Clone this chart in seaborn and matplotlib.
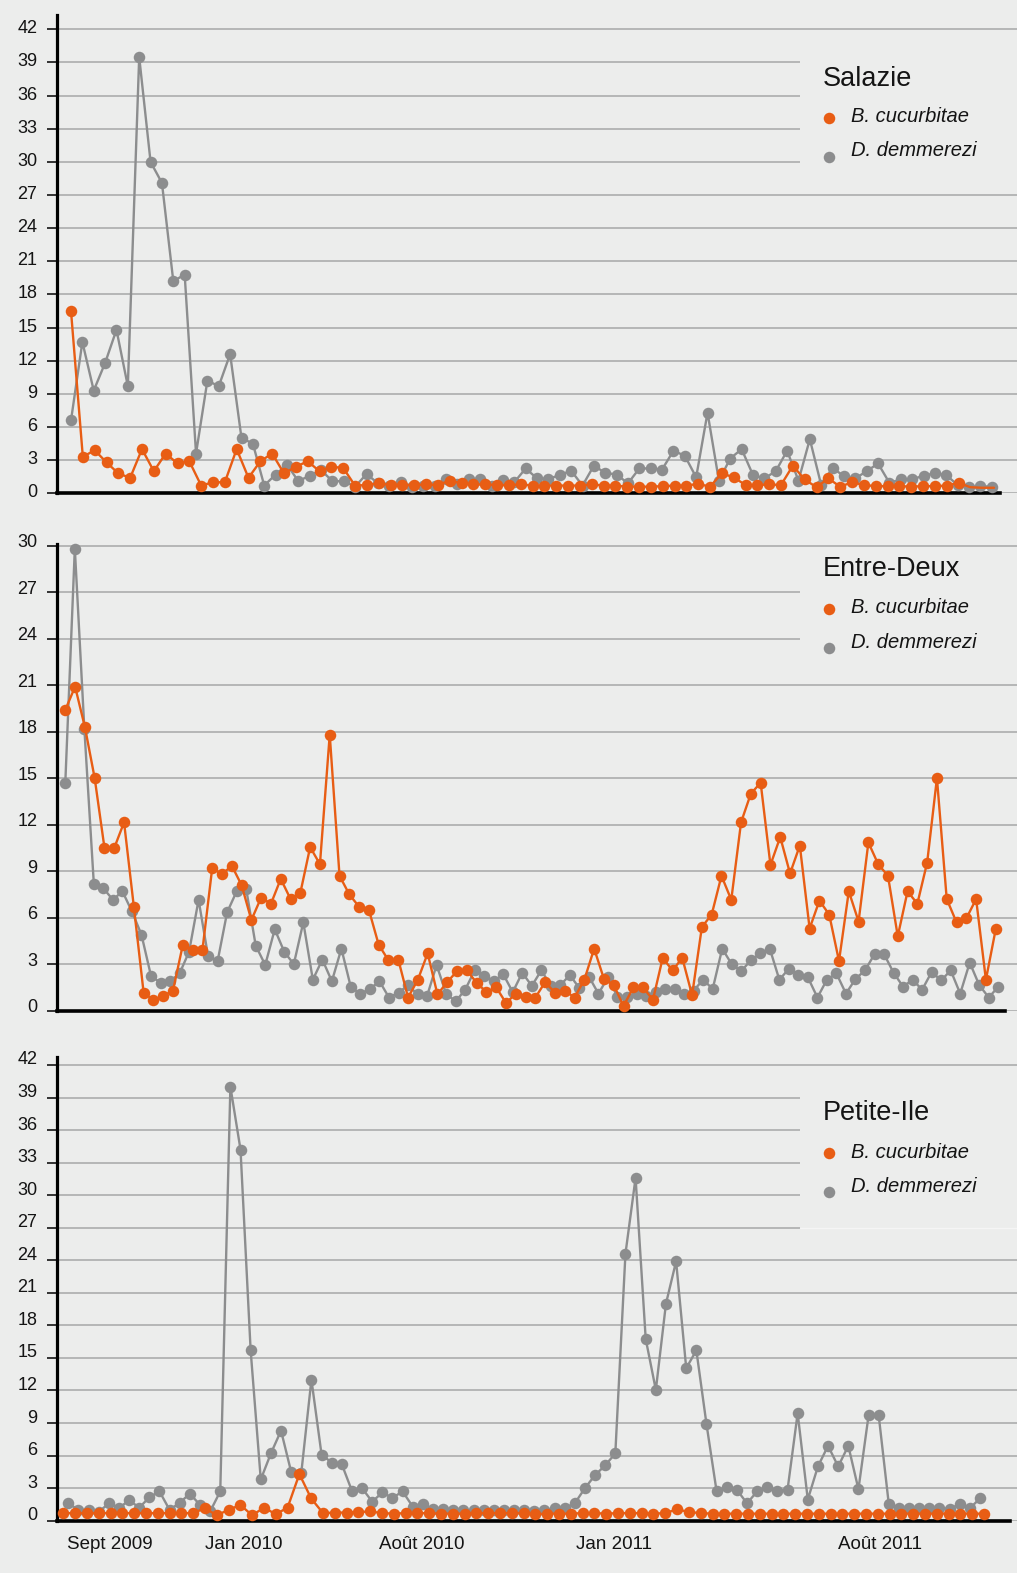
import numpy as np
import matplotlib
matplotlib.use("Agg")
import matplotlib.pyplot as plt
import seaborn as sns
from matplotlib.patches import Rectangle
from matplotlib.transforms import ScaledTranslation

sns.set_theme(style="white")
plt.rcParams["font.family"] = ["Liberation Sans", "DejaVu Sans"]

# ---------------------------------------------------------------- data
sites = ["Salazie", "Entre-Deux", "Petite-Ile"]
species = ["B. cucurbitae", "D. demmerezi"]
y_max = [42, 30, 42]
month_labels = ["Sept 2009", "Jan 2010", "Août 2010", "Jan 2011", "Août 2011"]

salazie_bc = [16.5, 3.3, 3.9, 2.8, 1.8, 1.4, 4.0, 2.0, 3.6, 2.7,
              2.9, 0.7, 1.0, 1.0, 4.0, 1.4, 2.9, 3.6, 1.8, 2.4,
              2.9, 2.0, 2.4, 2.3, 0.7, 0.75, 0.9, 0.75, 0.75, 0.75,
              0.8, 0.75, 1.15, 0.9, 0.8, 0.8, 0.75, 0.75, 0.8, 0.7,
              0.7, 0.7, 0.7, 0.7, 0.8, 0.7, 0.7, 0.6, 0.6, 0.6,
              0.65, 0.7, 0.7, 0.85, 0.6, 1.8, 1.45, 0.75, 0.75, 0.8,
              0.75, 2.5, 1.25, 0.55, 1.35, 0.6, 1.0, 0.75, 0.65, 0.65,
              0.65, 0.6, 0.65, 0.65, 0.7, 0.95, 0.55, 0.5, 0.5]
salazie_dd = [6.6, 13.7, 9.3, 11.8, 14.8, 9.7, 39.5, 30.0, 28.1, 19.2,
              19.8, 3.6, 10.2, 9.7, 12.6, 5.0, 4.5, 0.7, 1.7, 2.6,
              1.1, 1.6, 2.1, 1.1, 1.1, 0.6, 1.75, 0.9, 0.7, 1.0,
              0.6, 0.7, 0.7, 1.25, 0.8, 1.3, 1.3, 0.7, 1.2, 1.0,
              2.25, 1.35, 1.3, 1.65, 2.05, 0.7, 2.5, 1.85, 1.7, 0.9,
              2.25, 2.25, 2.15, 3.85, 3.4, 1.45, 7.3, 1.15, 3.15, 4.0,
              1.65, 1.35, 2.0, 3.85, 1.15, 4.9, 0.75, 2.3, 1.55, 1.35,
              2.0, 2.7, 0.95, 1.25, 1.25, 1.6, 1.8, 1.65, 0.75, 0.55,
              0.65, 0.6]

entre_deux_bc = [19.4, 20.9, 18.3, 15.0, 10.5, 10.5, 12.15, 6.7, 1.15, 0.7,
                 0.95, 1.3, 4.25, 3.9, 3.9, 9.2, 8.8, 9.35, 8.1, 5.85,
                 7.3, 6.9, 8.5, 7.2, 7.6, 10.55, 9.45, 17.8, 8.7, 7.5,
                 6.7, 6.5, 4.25, 3.25, 3.3, 0.85, 2.0, 3.7, 1.05, 1.85,
                 2.55, 2.6, 1.8, 1.2, 1.5, 0.5, 1.1, 0.9, 0.85, 1.85,
                 1.15, 1.3, 0.85, 2.0, 4.0, 2.05, 1.65, 0.3, 1.5, 1.5,
                 0.7, 3.4, 2.6, 3.4, 1.0, 5.4, 6.2, 8.7, 7.15, 12.15,
                 14.0, 14.7, 9.4, 11.2, 8.85, 10.65, 5.3, 7.1, 6.2, 3.2,
                 7.7, 5.75, 10.85, 9.45, 8.7, 4.8, 7.7, 6.9, 9.55, 15.0,
                 7.2, 5.7, 5.95, 7.2, 2.0, 5.25]
entre_deux_dd = [14.7, 29.8, 18.2, 8.15, 7.9, 7.15, 7.7, 6.4, 4.9, 2.25,
                 1.8, 1.9, 2.4, 3.8, 7.15, 3.5, 3.2, 6.35, 7.7, 7.85,
                 4.2, 2.95, 5.25, 3.8, 3.0, 5.7, 2.0, 3.3, 1.9, 4.0,
                 1.5, 1.1, 1.4, 1.9, 0.85, 1.15, 1.65, 1.05, 0.95, 2.95,
                 1.1, 0.6, 1.35, 2.6, 2.25, 1.9, 2.35, 1.2, 2.45, 1.6,
                 2.6, 1.6, 1.65, 2.3, 1.45, 2.2, 1.1, 2.15, 0.9, 0.9,
                 1.05, 0.95, 1.2, 1.4, 1.4, 1.05, 1.3, 2.0, 1.4, 4.0,
                 3.0, 2.55, 3.25, 3.7, 4.0, 2.0, 2.7, 2.3, 2.15, 0.85,
                 2.0, 2.4, 1.1, 2.05, 2.6, 3.65, 3.65, 2.45, 1.55, 2.0,
                 1.35, 2.5, 1.95, 2.6, 1.1, 3.1, 1.65, 0.85, 1.55]

petite_ile_bc = [0.7, 0.7, 0.7, 0.7, 0.7, 0.7, 0.7, 0.7, 0.7, 0.7,
                 0.7, 0.7, 1.15, 0.5, 1.0, 1.45, 0.5, 1.2, 0.6, 1.2,
                 4.3, 2.05, 0.7, 0.75, 0.75, 0.8, 0.85, 0.7, 0.65, 0.7,
                 0.7, 0.7, 0.65, 0.65, 0.65, 0.7, 0.7, 0.7, 0.7, 0.7,
                 0.6, 0.65, 0.65, 0.65, 0.7, 0.7, 0.65, 0.7, 0.7, 0.7,
                 0.65, 0.7, 1.05, 0.8, 0.7, 0.65, 0.65, 0.65, 0.65, 0.65,
                 0.65, 0.65, 0.65, 0.65, 0.65, 0.65, 0.65, 0.65, 0.65, 0.65,
                 0.65, 0.65, 0.65, 0.65, 0.65, 0.65, 0.65, 0.65, 0.65]
petite_ile_dd = [1.6, 1.0, 1.0, 0.8, 1.6, 1.15, 1.9, 1.2, 2.15, 2.7,
                 1.0, 1.65, 2.5, 1.45, 0.85, 2.7, 40.0, 34.2, 15.7, 3.8,
                 6.2, 8.3, 4.5, 4.4, 13.0, 6.1, 5.35, 5.2, 2.75, 3.0,
                 1.75, 2.6, 2.1, 2.7, 1.3, 1.55, 1.05, 1.05, 0.95, 0.95,
                 0.95, 0.95, 0.95, 0.95, 0.95, 0.95, 0.9, 0.95, 1.15, 1.15,
                 1.6, 3.0, 4.2, 5.1, 6.2, 24.6, 31.6, 16.75, 12.05, 20.0,
                 23.9, 14.05, 15.7, 8.9, 2.7, 3.15, 2.85, 1.6, 2.7, 3.15,
                 2.75, 2.85, 9.9, 1.95, 5.0, 6.9, 5.0, 6.9, 2.9, 9.7,
                 9.7, 1.5, 1.2, 1.15, 1.2, 1.15, 1.2, 1.05, 1.55, 1.15,
                 2.05]

# ---------------------------------------------------------------- layout
W, H = 1017, 1573
BG = "#ecedec"
ORANGE = "#e85d14"
GREY = "#8c8d8e"
TEXT = "#141414"

fig = plt.figure(figsize=(W / 100, H / 100), dpi=100, facecolor=BG)


def fx(x):
    return x / W


def fy(y):
    return 1 - y / H


# per panel: top of the axis line, baseline (value 0), value scale top,
# right end of the baseline, horizontal span of each series, legend block
panels = [
    dict(top=15, base=493.3, ylim=43.3, x_end=1000,
         bc=salazie_bc, dd=salazie_dd,
         bc_span=(71, 994), dd_span=(71, 991.7), bc_marked=76,
         box=(40, 175), box_edge=False, title_y=79, mk_y=(118, 157),
         lab_y=(117, 151), lab_dy=2.5),
    dict(top=544, base=1010.7, ylim=30.1, x_end=1005,
         bc=entre_deux_bc, dd=entre_deux_dd,
         bc_span=(65.3, 995.7), dd_span=(65.3, 998.3), bc_marked=None,
         box=(552, 672), box_edge=False, title_y=569, mk_y=(609, 648),
         lab_y=(607, 642), lab_dy=5),
    dict(top=1056.7, base=1520.7, ylim=42.76, x_end=1010,
         bc=petite_ile_bc, dd=petite_ile_dd,
         bc_span=(63.3, 984), dd_span=(68.3, 980), bc_marked=None,
         box=(1075, 1231), box_edge=True, title_y=1113, mk_y=(1153, 1192),
         lab_y=(1152, 1187), lab_dy=7),
]

X_LEFT, X_RIGHT = 57, W
month_pos = [110, 244, 422, 614, 880]

for k, (site, p) in enumerate(zip(sites, panels)):
    ax = fig.add_axes([fx(X_LEFT), fy(p["base"]), fx(X_RIGHT - X_LEFT),
                       (p["base"] - p["top"]) / H])
    ax.set_facecolor(BG)
    ax.set_xlim(X_LEFT, X_RIGHT)
    ax.set_ylim(0, p["ylim"])

    # grey species first so the orange one sits on top
    x_dd = np.linspace(*p["dd_span"], len(p["dd"]))
    sns.lineplot(x=x_dd, y=p["dd"], ax=ax, color=GREY, marker="o",
                 markersize=8.3, markeredgewidth=0, linewidth=1.7,
                 legend=False, zorder=3, clip_on=False)
    x_bc = np.linspace(*p["bc_span"], len(p["bc"]))
    kw = {}
    if p["bc_marked"] is not None:
        kw["markevery"] = list(range(p["bc_marked"]))
    sns.lineplot(x=x_bc, y=p["bc"], ax=ax, color=ORANGE, marker="o",
                 markersize=8.3, markeredgewidth=0, linewidth=1.7,
                 legend=False, zorder=4, clip_on=False, **kw)

    # axes styling
    ax.set_yticks(np.arange(0, y_max[k] + 1, 3))
    ax.grid(axis="y", color="#a9aaaa", linewidth=1.15)
    ax.grid(axis="x", visible=False)
    ax.set_axisbelow(True)
    for s in ("top", "right"):
        ax.spines[s].set_visible(False)
    ax.spines["left"].set_linewidth(2.3)
    ax.spines["left"].set_color("black")
    ax.spines["bottom"].set_linewidth(2.6)
    ax.spines["bottom"].set_color("black")
    ax.spines["bottom"].set_bounds(X_LEFT, p["x_end"])
    ax.tick_params(axis="y", left=True, length=7.2, width=1.1, color="black",
                   direction="out", pad=7, labelsize=13, labelcolor=TEXT)
    shift = ScaledTranslation(0, p["lab_dy"] / 100, fig.dpi_scale_trans)
    for lab in ax.get_yticklabels():
        lab.set_transform(lab.get_transform() + shift)

    if k == 2:
        ax.set_xticks(month_pos)
        ax.set_xticklabels(month_labels)
        ax.tick_params(axis="x", bottom=True, length=0, pad=11,
                       labelsize=13.5, labelcolor=TEXT)
    else:
        ax.set_xticks([])

    # legend block
    y0, y1 = p["box"]
    ax.add_patch(Rectangle((fx(800), fy(y1)), fx(W - 800), (y1 - y0) / H,
                           transform=fig.transFigure, facecolor=BG,
                           edgecolor="none", zorder=1, clip_on=False))
    if p["box_edge"]:
        fig.lines.append(plt.Line2D([fx(800), 1], [fy(y1 - 3), fy(y1 - 3)],
                                    transform=fig.transFigure,
                                    color="#f5f5f5", linewidth=0.9))
    fig.text(fx(823), fy(p["title_y"]), site, fontsize=19.5, color=TEXT,
             va="center", ha="left")
    for name, col, my, ly in zip(species, (ORANGE, GREY), p["mk_y"], p["lab_y"]):
        fig.lines.append(plt.Line2D([fx(829)], [fy(my)], transform=fig.transFigure,
                                    marker="o", markersize=8.3, markeredgewidth=0,
                                    color=col, linestyle="none"))
        fig.text(fx(851), fy(ly), name, fontsize=14.5, style="italic",
                 color=TEXT, va="center", ha="left")

fig.savefig("out.png", dpi=100, facecolor=BG)
